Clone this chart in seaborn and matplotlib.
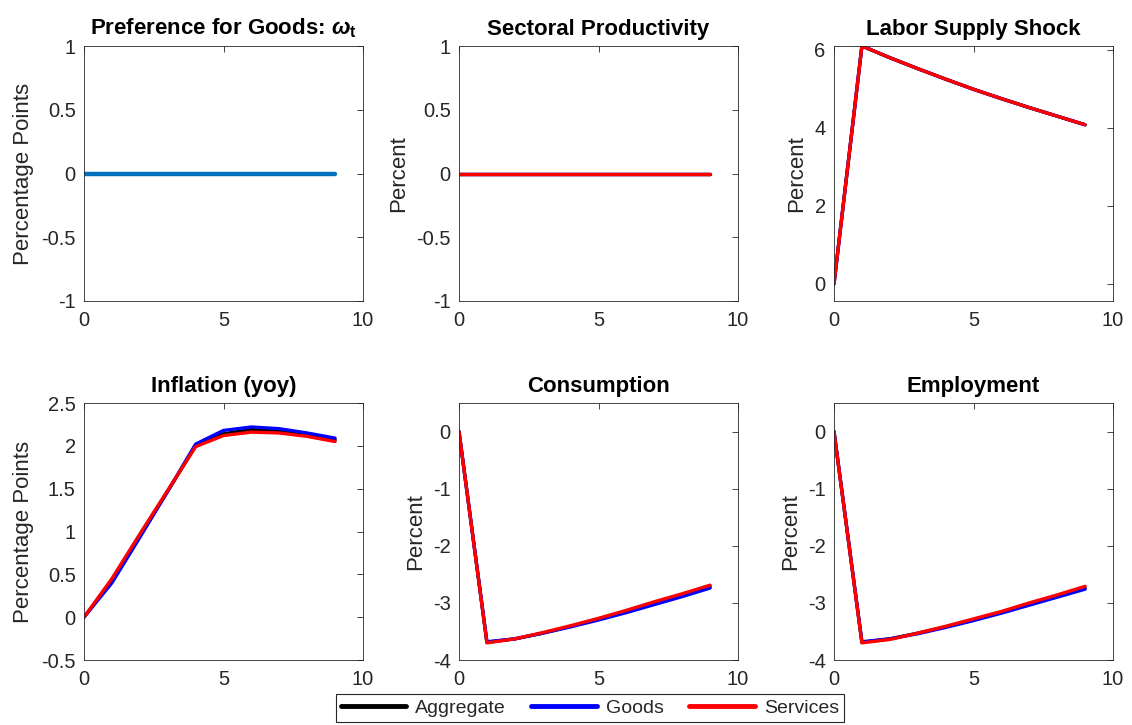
import pandas as pd
import matplotlib.pyplot as plt
import seaborn as sns

# Impulse responses
periods = [0, 1, 2, 3, 4, 5, 6, 7, 8, 9]
sectors = ['Aggregate', 'Goods', 'Services']
sector_colors = {'Aggregate': 'black', 'Goods': 'blue', 'Services': 'red'}

pref_goods = [0, 0, 0, 0, 0, 0, 0, 0, 0, 0]

productivity = {
    'Aggregate': [0, 0, 0, 0, 0, 0, 0, 0, 0, 0],
    'Goods': [0, 0, 0, 0, 0, 0, 0, 0, 0, 0],
    'Services': [0, 0, 0, 0, 0, 0, 0, 0, 0, 0],
}
labor_supply = {
    'Aggregate': [0, 6.10, 5.80, 5.52, 5.25, 4.99, 4.75, 4.52, 4.30, 4.08],
    'Goods': [0, 6.10, 5.80, 5.52, 5.25, 4.99, 4.75, 4.52, 4.30, 4.08],
    'Services': [0, 6.10, 5.80, 5.52, 5.25, 4.99, 4.75, 4.52, 4.30, 4.08],
}
inflation = {
    'Aggregate': [0, 0.42, 0.95, 1.47, 2.00, 2.14, 2.19, 2.17, 2.13, 2.07],
    'Goods': [0, 0.40, 0.93, 1.47, 2.02, 2.18, 2.22, 2.20, 2.15, 2.09],
    'Services': [0, 0.45, 0.97, 1.48, 1.99, 2.12, 2.16, 2.15, 2.11, 2.05],
}
consumption = {
    'Aggregate': [0, -3.69, -3.63, -3.53, -3.41, -3.28, -3.15, -3.01, -2.87, -2.72],
    'Goods': [0, -3.68, -3.63, -3.53, -3.42, -3.30, -3.17, -3.03, -2.89, -2.74],
    'Services': [0, -3.70, -3.63, -3.52, -3.40, -3.27, -3.13, -2.98, -2.84, -2.69],
}
employment = {
    'Aggregate': [0, -3.69, -3.63, -3.53, -3.42, -3.30, -3.16, -3.02, -2.88, -2.74],
    'Goods': [0, -3.68, -3.63, -3.54, -3.43, -3.31, -3.18, -3.04, -2.90, -2.76],
    'Services': [0, -3.70, -3.64, -3.53, -3.41, -3.28, -3.15, -3.00, -2.86, -2.71],
}


def to_long(series):
    rows = []
    for s in sectors:
        for t, v in zip(periods, series[s]):
            rows.append({'period': t, 'value': v, 'sector': s})
    return pd.DataFrame(rows)


sns.set_theme(style="white")
plt.rcParams['font.family'] = ['Liberation Sans', 'DejaVu Sans']
plt.rcParams['mathtext.fontset'] = 'custom'
plt.rcParams['mathtext.bf'] = 'Liberation Sans:bold'
plt.rcParams['mathtext.bfit'] = 'Liberation Sans:italic:bold'

fig = plt.figure(figsize=(11.32, 7.25), dpi=100)

lefts = [84 / 1132, 459 / 1132, 834 / 1132]
width = 279 / 1132
top_row = (1 - 301 / 725, 255 / 725)
bot_row = (1 - 660 / 725, 257 / 725)

panels = [
    ('Preference for Goods: $\\boldsymbol{\\omega}_\\mathbf{t}$', 'Percentage Points', None, (-1, 1), [-1, -0.5, 0, 0.5, 1]),
    ('Sectoral Productivity', 'Percent', productivity, (-1, 1), [-1, -0.5, 0, 0.5, 1]),
    ('Labor Supply Shock', 'Percent', labor_supply, (-0.44, 6.1), [0, 2, 4, 6]),
    ('Inflation (yoy)', 'Percentage Points', inflation, (-0.5, 2.5), [-0.5, 0, 0.5, 1, 1.5, 2, 2.5]),
    ('Consumption', 'Percent', consumption, (-4, 0.5), [-4, -3, -2, -1, 0]),
    ('Employment', 'Percent', employment, (-4, 0.5), [-4, -3, -2, -1, 0]),
]

axes = []
for i, (title, ylab, series, ylim, yticks) in enumerate(panels):
    bottom, height = top_row if i < 3 else bot_row
    ax = fig.add_axes([lefts[i % 3], bottom, width, height])
    if series is None:
        sns.lineplot(x=periods, y=pref_goods, color='#0072BD', linewidth=3.2, ax=ax)
    else:
        sns.lineplot(data=to_long(series), x='period', y='value', hue='sector',
                     hue_order=sectors, palette=sector_colors, linewidth=2.4,
                     ax=ax, legend=(i == 3))
    ax.set_xlim(0, 10)
    ax.set_xticks([0, 5, 10])
    ax.set_ylim(*ylim)
    ax.set_yticks(yticks)
    ax.set_yticklabels([f'{v:g}' for v in yticks])
    ax.set_title(title, fontsize=16, fontweight='bold', pad=8, color='black')
    ax.set_xlabel('')
    ax.set_ylabel(ylab, fontsize=16, color='#262626', labelpad=5)
    ax.tick_params(direction='in', top=True, right=True, length=4, width=0.6,
                   labelsize=14.5, colors='#262626')
    ax.tick_params(axis='y', pad=6)
    ax.tick_params(axis='x', pad=7)
    for sp in ax.spines.values():
        sp.set_color('#262626')
        sp.set_linewidth(0.6)
    axes.append(ax)

handles, labels = axes[3].get_legend_handles_labels()
axes[3].get_legend().remove()
for h in handles:
    h.set_linewidth(3.5)
leg = fig.legend(handles, labels, loc='center', bbox_to_anchor=(590 / 1132, 1 - 708 / 725),
                 ncol=3, frameon=True, fancybox=False, edgecolor='#262626',
                 fontsize=14, handlelength=3.35, columnspacing=1.3, handletextpad=0.5,
                 borderpad=0.25, borderaxespad=0, framealpha=1)
leg.get_frame().set_linewidth(0.8)

fig.savefig('out.png', dpi=100)
